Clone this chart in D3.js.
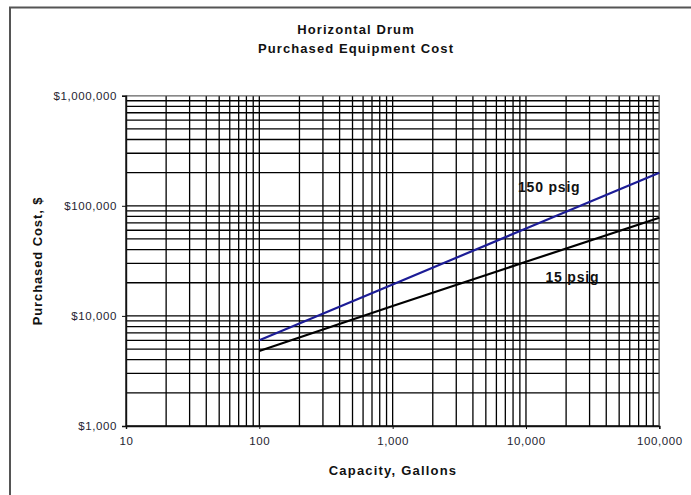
<!DOCTYPE html>
<html>
<head>
<meta charset="utf-8">
<script src="https://cdn.jsdelivr.net/npm/d3@7"></script>
<style>
  html, body { margin: 0; padding: 0; background: #fff; }
  svg { display: block; }
  text { font-family: "Liberation Sans", Arial, sans-serif; }
</style>
</head>
<body>
<svg id="chart" width="691" height="495"></svg>
<script>
// Capacity (gallons) and purchased cost ($) for each pressure rating
const capacity = [100, 1000, 10000, 100000];
const cost150 = [6000, 19300, 62200, 200000];
const cost15 = [4800, 12300, 31000, 78000];

const xTickValues = [10, 100, 1000, 10000, 100000];
const xTickLabels = ["10", "100", "1,000", "10,000", "100,000"];
const yTickValues = [1000, 10000, 100000, 1000000];
const yTickLabels = ["$1,000", "$10,000", "$100,000", "$1,000,000"];

const titleLines = ["Horizontal Drum", "Purchased Equipment Cost"];
const xTitle = "Capacity, Gallons";
const yTitle = "Purchased Cost, $";
const seriesLabels = ["150 psig", "15 psig"];

const svg = d3.select("#chart");
const plotLeft = 126, plotRight = 659.3, plotTop = 95.7, plotBottom = 426;

const x = d3.scaleLog().domain([10, 100000]).range([plotLeft, plotRight]);
const y = d3.scaleLog().domain([1000, 1000000]).range([plotBottom, plotTop]);

// Outer frame
svg.append("rect")
  .attr("x", 10).attr("y", 7.5)
  .attr("width", 700).attr("height", 520)
  .attr("fill", "none").attr("stroke", "#555").attr("stroke-width", 2);

// Titles
const title = svg.append("text")
  .attr("text-anchor", "middle")
  .attr("font-weight", "bold").attr("font-size", 13)
  .attr("letter-spacing", 1.1)
  .attr("fill", "#111");
titleLines.forEach((t, i) => {
  title.append("tspan").attr("x", 356).attr("y", 34.3 + i * 18.4).text(t);
});

// Grid: every 1..9 multiple of each decade
const gridX = [], gridY = [];
for (let d = 10; d < 100000; d *= 10) for (let m = 1; m < 10; m++) gridX.push(d * m);
gridX.push(100000);
for (let d = 1000; d < 1000000; d *= 10) for (let m = 1; m < 10; m++) gridY.push(d * m);
gridY.push(1000000);

const grid = svg.append("g").attr("stroke", "#000").attr("stroke-width", 1.3);
grid.selectAll("line.gx").data(gridX).join("line").attr("class", "gx")
  .attr("x1", d => x(d)).attr("x2", d => x(d))
  .attr("y1", plotTop).attr("y2", plotBottom);
grid.selectAll("line.gy").data(gridY).join("line").attr("class", "gy")
  .attr("x1", plotLeft).attr("x2", plotRight)
  .attr("y1", d => y(d)).attr("y2", d => y(d));

// Plot border (top / right lighter)
svg.append("line").attr("x1", plotLeft).attr("x2", plotRight).attr("y1", plotTop).attr("y2", plotTop)
  .attr("stroke", "#888").attr("stroke-width", 1.2);
svg.append("line").attr("x1", plotRight).attr("x2", plotRight).attr("y1", plotTop).attr("y2", plotBottom)
  .attr("stroke", "#777").attr("stroke-width", 1.2);

// Axes
const xAxis = d3.axisBottom(x).tickValues(xTickValues)
  .tickFormat((d, i) => xTickLabels[i]).tickSize(3).tickPadding(8);
const yAxis = d3.axisLeft(y).tickValues(yTickValues)
  .tickFormat((d, i) => yTickLabels[i]).tickSize(4).tickPadding(5);

const gx = svg.append("g").attr("transform", `translate(0,${plotBottom})`).call(xAxis);
const gy = svg.append("g").attr("transform", `translate(${plotLeft},0)`).call(yAxis);
[gx, gy].forEach(g => {
  g.select(".domain").attr("stroke", "#111").attr("stroke-width", 1.4);
  g.selectAll(".tick line").attr("stroke", "#111");
  g.selectAll(".tick text")
    .attr("font-family", "Liberation Sans, Arial, sans-serif")
    .attr("font-size", 11.5).attr("letter-spacing", 0.6).attr("fill", "#1e1e30");
});

// Axis titles
svg.append("text")
  .attr("x", 393).attr("y", 474.5)
  .attr("text-anchor", "middle").attr("font-weight", "bold")
  .attr("font-size", 13).attr("letter-spacing", 1.2).attr("fill", "#111")
  .text(xTitle);
svg.append("text")
  .attr("transform", "translate(41.5,261) rotate(-90)")
  .attr("text-anchor", "middle").attr("font-weight", "bold")
  .attr("font-size", 13).attr("letter-spacing", 0.9).attr("fill", "#111")
  .text(yTitle);

// Cost curves
const line = d3.line().x(d => x(d[0])).y(d => y(d[1]));
svg.append("path")
  .datum(capacity.map((c, i) => [c, cost150[i]]))
  .attr("d", line).attr("fill", "none")
  .attr("stroke", "#1c1c96").attr("stroke-width", 2.2);
svg.append("path")
  .datum(capacity.map((c, i) => [c, cost15[i]]))
  .attr("d", line).attr("fill", "none")
  .attr("stroke", "#000").attr("stroke-width", 2.2);

// Series labels
svg.append("text").attr("x", 518).attr("y", 192.3)
  .attr("font-weight", "bold").attr("font-size", 14).attr("letter-spacing", 0.8)
  .attr("fill", "#111").text(seriesLabels[0]);
svg.append("text").attr("x", 545.5).attr("y", 281.7)
  .attr("font-weight", "bold").attr("font-size", 14).attr("letter-spacing", 0.8)
  .attr("fill", "#111").text(seriesLabels[1]);
</script>
</body>
</html>
